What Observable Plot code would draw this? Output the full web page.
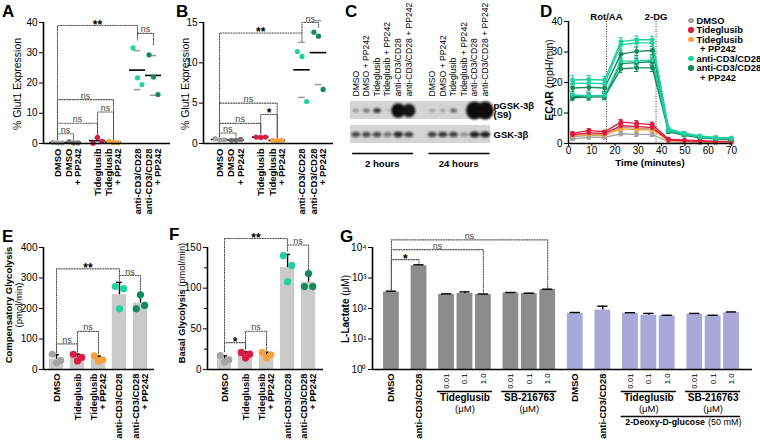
<!DOCTYPE html>
<html><head><meta charset="utf-8">
<script src="https://cdn.jsdelivr.net/npm/d3@7"></script>
<script src="https://cdn.jsdelivr.net/npm/@observablehq/plot@0.6"></script>
<style>
body{margin:0;background:#fff;}
#fig{position:relative;width:760px;height:442px;overflow:hidden;font-family:"Liberation Sans",Arial,Helvetica,sans-serif;color:#000;background:#fff;}
#fig svg{position:absolute;overflow:visible;}
</style></head><body><div id="fig"></div>
<script>
// ================= DATA =================
// A / B : % Glut1 expression, 3 donors per condition
const glutCats = ["DMSO", "DMSO\n+ PP242", "Tideglusib", "Tideglusib\n+ PP242", "anti-CD3/CD28", "anti-CD3/CD28\n+ PP242"];
const glutColors = ["#a4a4a4", "#727272", "#dc1a43", "#f7a23d", "#22d1a1", "#13895c"];
const glutA = [[0.4, 0.2, 0.2], [0.6, 0.2, 0.2], [0.1, 2.0, 0.7], [0.7, 0.3, 0.3], [31.6, 21.7, 19.5], [29.3, 22.0, 16.2]];
const glutB = [[0.6, 0.45, 0.45], [0.4, 0.4, 0.5], [0.8, 0.75, 0.8], [0.4, 0.35, 0.4], [11.4, 10.8, 5.2], [13.8, 13.3, 6.7]];
const glutTicksA = [0, 10, 20, 30, 40];
const glutTicksB = [0, 5, 10, 15];
const sigA = [
  {a: 0, b: 4, y: 39, ya: 1.3, yb: 34.2, label: "**"},
  {a: 4, b: 5, y: 36.4, ya: 36.4, yb: 32.6, label: "ns"},
  {a: 0, b: 3, y: 14.5, ya: 1.3, yb: 1.3, label: "ns"},
  {a: 2, b: 3, y: 10.4, ya: 2.8, yb: 1.3, label: "ns"},
  {a: 0, b: 2, y: 6.7, ya: 1.3, yb: 2.8, label: "ns"},
  {a: 0, b: 1, y: 3.2, ya: 1.3, yb: 1.3, label: "ns"}];
const sigB = [
  {a: 0, b: 4, y: 13.7, ya: 0.9, yb: 12.7, label: "**"},
  {a: 4, b: 5, y: 15.0, ya: 13.7, yb: 14.4, label: "ns"},
  {a: 0, b: 3, y: 5.0, ya: 0.9, yb: 0.7, label: "ns"},
  {a: 2, b: 3, y: 3.6, ya: 1.2, yb: 0.7, label: "*"},
  {a: 0, b: 2, y: 2.5, ya: 0.9, yb: 1.2, label: "ns"},
  {a: 0, b: 1, y: 1.3, ya: 0.9, yb: 0.8, label: "ns"}];

// C : western blot (band size / darkness per lane)
const blotLanes = ["DMSO", "DMSO + PP242", "Tideglusib", "Tideglusib + PP242", "anti-CD3/CD28", "anti-CD3/CD28 + PP242"];
const blotTimes = ["2 hours", "24 hours"];
const blotRows = ["pGSK-3β\n(S9)", "GSK-3β"];
const pgskSize = [3, 3.5, 4, 2.5, 7, 6.5, 3, 3, 3.5, 0, 8.5, 8.5];
const pgskDark = [0.35, 0.5, 0.8, 0.12, 1, 0.95, 0.25, 0.25, 0.6, 0, 1, 1];
const gskSize = [4.5, 4.5, 4.5, 4.2, 4.8, 4.6, 4.5, 4.6, 4.5, 4.2, 5, 5];
const gskDark = [0.7, 0.7, 0.7, 0.5, 0.85, 0.75, 0.75, 0.8, 0.75, 0.3, 0.9, 0.9];

// D : ECAR time course
const dTimes = [1.8, 8.8, 15.5, 22.5, 29.3, 36.0, 43.0, 49.8, 56.5, 63.2, 69.9];
const dInjLabels = ["Rot/AA", "2-DG"];
const dInjTimes = [16.3, 37.6];
const dTicksX = [0, 10, 20, 30, 40, 50, 60, 70];
const dTicksY = [0, 10, 20, 30, 40];
const dConds = ["DMSO", "Tideglusib", "Tideglusib\n+ PP242", "anti-CD3/CD28", "anti-CD3/CD28\n+ PP242"];
const dColors = ["#a2a2a2", "#dc1a43", "#f7a23d", "#22d1a1", "#13895c"];
const dSeries = [
  {cond: 0, vals: [1.5, 2.0, 2.0, 3.2, 3.0, 2.9, 0.6, 0.3, 0.2, 0.1, 0.1], err: [0.5, 0.5, 0.5, 0.7, 0.7, 0.6, 0.3, 0.2, 0.2, 0.1, 0.1]},
  {cond: 0, vals: [2.2, 2.7, 2.6, 5.3, 5.0, 4.8, 0.9, 0.6, 0.4, 0.3, 0.3], err: [0.6, 0.6, 0.6, 1.2, 1.3, 1.1, 0.4, 0.3, 0.2, 0.2, 0.2]},
  {cond: 2, vals: [2.6, 3.0, 2.8, 4.8, 4.6, 4.4, 1.0, 0.7, 0.5, 0.4, 0.4], err: [0.5, 0.5, 0.5, 0.8, 0.8, 0.7, 0.3, 0.2, 0.2, 0.2, 0.2]},
  {cond: 1, vals: [2.9, 3.5, 3.3, 5.8, 5.6, 5.2, 1.2, 0.9, 0.7, 0.6, 0.6], err: [0.5, 0.5, 0.5, 0.8, 0.8, 0.7, 0.3, 0.2, 0.2, 0.2, 0.2]},
  {cond: 1, vals: [3.3, 4.3, 3.8, 7.0, 6.6, 6.2, 1.4, 1.1, 0.9, 0.7, 0.7], err: [0.5, 0.5, 0.5, 0.9, 0.9, 0.8, 0.3, 0.2, 0.2, 0.2, 0.2]},
  {cond: 4, vals: [15.0, 15.2, 15.3, 24.5, 24.8, 24.8, 3.8, 2.7, 1.9, 1.5, 1.3], err: [1.0, 1.0, 1.0, 1.2, 1.2, 1.2, 0.5, 0.4, 0.3, 0.3, 0.3]},
  {cond: 4, vals: [15.4, 15.6, 15.6, 26.2, 26.5, 26.8, 4.0, 2.9, 2.0, 1.6, 1.4], err: [1.0, 1.0, 1.0, 1.3, 1.3, 1.3, 0.5, 0.4, 0.3, 0.3, 0.3]},
  {cond: 4, vals: [18.2, 18.4, 18.2, 29.3, 30.2, 30.5, 4.4, 3.1, 2.2, 1.8, 1.6], err: [1.1, 1.1, 1.1, 1.3, 1.4, 1.4, 0.5, 0.4, 0.3, 0.3, 0.3]},
  {cond: 3, vals: [16.0, 15.6, 15.8, 27.0, 27.0, 27.4, 4.2, 3.0, 2.1, 1.7, 1.5], err: [1.0, 1.0, 1.0, 1.3, 1.3, 1.3, 0.5, 0.4, 0.3, 0.3, 0.3]},
  {cond: 3, vals: [19.7, 19.8, 19.6, 32.4, 33.0, 33.0, 4.5, 3.2, 2.3, 1.9, 1.7], err: [1.2, 1.2, 1.2, 1.3, 1.3, 1.3, 0.5, 0.4, 0.3, 0.3, 0.3]},
  {cond: 3, vals: [20.8, 21.0, 20.8, 33.4, 34.0, 34.0, 4.8, 3.4, 2.5, 2.0, 1.8], err: [1.4, 1.3, 1.2, 1.3, 1.3, 1.2, 0.6, 0.5, 0.4, 0.3, 0.3]}];

// E / F : glycolysis, 3 donors
const glyCats = ["DMSO", "Tideglusib", "Tideglusib\n+ PP242", "anti-CD3/CD28", "anti-CD3/CD28\n+ PP242"];
const glyColors = ["#a4a4a4", "#dc1a43", "#f7a23d", "#22d1a1", "#13895c"];
const compVals = [[50, 30, 22], [50, 40, 28], [45, 32, 28], [272, 265, 199], [199, 210, 245]];
const basalVals = [[17, 12, 9], [21, 19, 14], [21, 18, 14], [140, 128, 108], [102, 102, 118]];
const compTicks = [0, 100, 200, 300, 400];
const basalTicks = [0, 50, 100, 150];
const basalMinor = [25, 75, 125];
const sigE = [
  {a: 0, b: 3, y: 330, ya: 55, yb: 290, label: "**"},
  {a: 3, b: 4, y: 308, ya: 308, yb: 255, label: "ns"},
  {a: 0, b: 1, y: 84, ya: 55, yb: 58, label: "ns"},
  {a: 1, b: 2, y: 125, ya: 58, yb: 52, label: "ns"}];
const sigF = [
  {a: 0, b: 3, y: 161, ya: 22, yb: 146, label: "**"},
  {a: 3, b: 4, y: 153, ya: 153, yb: 122, label: "ns"},
  {a: 0, b: 1, y: 33, ya: 22, yb: 25, label: "*"},
  {a: 1, b: 2, y: 47, ya: 25, yb: 24, label: "ns"}];

// G : L-lactate
const lacLabels = ["DMSO", "anti-CD3/CD28", "0.01", "0.1", "1.0", "0.01", "0.1", "1.0", "DMSO", "anti-CD3/CD28", "0.01", "0.1", "1.0", "0.01", "0.1", "1.0"];
const lacGroup = ["DMSO", "anti", "T", "T", "T", "SB", "SB", "SB", "DMSO-2DG", "anti-2DG", "T-2DG", "T-2DG", "T-2DG", "SB-2DG", "SB-2DG", "SB-2DG"];
const lac2DG = [false, false, false, false, false, false, false, false, true, true, true, true, true, true, true, true];
const lacMean = [345, 2530, 290, 310, 290, 325, 310, 420, 70, 89, 70, 60, 57, 65, 57, 73];
const lacErr = [25, 180, 12, 40, 8, 10, 8, 10, 4, 30, 3, 9, 3, 4, 3, 4];
const lacTicks = [1, 10, 100, 1000, 10000];
const lacTickLabels = ["10⁰", "10¹", "10²", "10³", "10⁴"];
const lacDrugGroups = [
  {name: "Tideglusib", unit: "(μM)", a: 2, b: 4},
  {name: "SB-216763", unit: "(μM)", a: 5, b: 7},
  {name: "Tideglusib", unit: "(μM)", a: 10, b: 12},
  {name: "SB-216763", unit: "(μM)", a: 13, b: 15}];
const lac2DGGroup = {name: "2-Deoxy-D-glucose", unit: "(50 mM)", a: 10, b: 15};
const sigG = [
  {a: 0, b: 1, y: 4000, ya: 420, yb: 3100, label: "*"},
  {a: 0, b: 4, y: 8500, ya: 420, yb: 340, label: "ns"},
  {a: 0, b: 7, y: 17800, ya: 420, yb: 470, label: "ns"}];

// ================= HELPERS =================
const FONT = '"Liberation Sans", Arial, Helvetica, sans-serif';
const ST = {fontFamily: FONT, fontSize: "10px", background: "transparent", color: "#000", overflow: "visible"};
const fig = document.getElementById("fig");
function put(node, left, top) { node.style.position = "absolute"; node.style.left = left + "px"; node.style.top = top + "px"; fig.appendChild(node); return node; }
function html(inner, css) { const d = document.createElement("div"); d.innerHTML = inner; d.style.cssText = "position:absolute;white-space:nowrap;" + css; fig.appendChild(d); return d; }
function letter(ch, x, y) { html(ch, `left:${x}px;top:${y}px;font-weight:bold;font-size:17px;line-height:13px;`); }
function ytitle(inner, cx, cy, size) { html(inner, `left:${cx}px;top:${cy}px;font-size:${size}px;line-height:1.1;text-align:center;transform:translate(-50%,-50%) rotate(-90deg);`); }

function sigMarks(list, xp) {
  const segs = list.flatMap((b, j) => [
    {j, x: xp(b.a), y: b.ya}, {j, x: xp(b.a), y: b.y}, {j, x: xp(b.b), y: b.y}, {j, x: xp(b.b), y: b.yb}]);
  const mid = b => (xp(b.a) + xp(b.b)) / 2;
  return [
    Plot.line(segs, {x: "x", y: "y", z: "j", stroke: "#555", strokeWidth: 1.1, strokeDasharray: "1.2 1.4"}),
    Plot.text(list.filter(b => b.label === "ns"), {x: mid, y: "y", text: "label", lineAnchor: "bottom", dy: -1, fontSize: 9, fill: "#444"}),
    Plot.text(list.filter(b => b.label !== "ns"), {x: mid, y: "y", text: "label", lineAnchor: "bottom", dy: 3, fontSize: 12, fontWeight: "bold"})
  ];
}

// ================= A & B =================
function scatterPanel({vals, ticks, sig, yMax, width, mL, mR, xDom}) {
  const xp = i => i + Math.floor(i / 2) * 0.5;
  const labelMap = new Map(glutCats.map((c, i) => [xp(i), c]));
  const pts = vals.flatMap((a, i) => a.map((v, k) => ({i, k, v})));
  const st = vals.map((a, i) => ({i, m: d3.mean(a), s: d3.deviation(a)}));
  return Plot.plot({
    width, height: 225, marginLeft: mL, marginRight: mR, marginTop: 22, marginBottom: 82, style: ST,
    x: {domain: xDom}, y: {domain: [0, yMax]},
    marks: [
      ...sigMarks(sig, xp),
      Plot.ruleY(st, {y: d => d.m + d.s, x1: d => xp(d.i) - 0.2, x2: d => xp(d.i) + 0.2, stroke: "#999", strokeWidth: 1.5}),
      Plot.ruleY(st, {y: d => Math.max(0, d.m - d.s), x1: d => xp(d.i) - 0.2, x2: d => xp(d.i) + 0.2, stroke: "#999", strokeWidth: 1.5}),
      Plot.ruleY(st, {y: "m", x1: d => xp(d.i) - 0.5, x2: d => xp(d.i) + 0.5, stroke: "#000", strokeWidth: 1.6}),
      Plot.dot(pts, {x: d => xp(d.i) + (d.k - 1) * 0.28, y: "v", r: 2.6, fill: d => glutColors[d.i]}),
      Plot.ruleY([0], {strokeWidth: 1.6}),
      Plot.ruleX([xDom[0]], {strokeWidth: 1.6}),
      Plot.axisY({ticks, tickSize: 4, tickPadding: 2, label: null, fontSize: 10}),
      Plot.axisX([...labelMap.keys()], {tickFormat: d => labelMap.get(d), tickRotate: -90, tickSize: 0, tickPadding: 5, label: null, fontWeight: "bold", fontSize: 9.5})
    ]
  });
}
put(scatterPanel({vals: glutA, ticks: glutTicksA, sig: sigA, yMax: 40, width: 178, mL: 43, mR: 8, xDom: [-0.875, 7.06]}), 0, 0);
put(scatterPanel({vals: glutB, ticks: glutTicksB, sig: sigB, yMax: 15, width: 175, mL: 38, mR: 7, xDom: [-0.97, 6.91]}), 165, 0);

// ================= C =================
{
  const lanePos = d3.range(12).map(i => i + Math.floor(i / 6) * 1.2);
  const laneMap = new Map(lanePos.map((p, i) => [p, blotLanes[i % 6]]));
  const bands = lanePos.flatMap((p, i) => [
    {x: p, row: blotRows[0], r: pgskSize[i], a: pgskDark[i]},
    {x: p, row: blotRows[1], r: gskSize[i], a: gskDark[i]}]).filter(d => d.r > 0);
  const groups = blotTimes.map((t, g) => ({label: t, x1: lanePos[g * 6] - 0.3, x2: lanePos[g * 6 + 5] + 0.45, xc: (lanePos[g * 6] + lanePos[g * 6 + 5]) / 2}));
  const ellipse = {draw(ctx, size) {
    const r = Math.sqrt(size / Math.PI), rx = r, ry = r >= 6 ? r * 1.05 : r * 0.6, k = 0.5523;
    ctx.moveTo(rx, 0);
    ctx.bezierCurveTo(rx, ry * k, rx * k, ry, 0, ry);
    ctx.bezierCurveTo(-rx * k, ry, -rx, ry * k, -rx, 0);
    ctx.bezierCurveTo(-rx, -ry * k, -rx * k, -ry, 0, -ry);
    ctx.bezierCurveTo(rx * k, -ry, rx, -ry * k, rx, 0);
    ctx.closePath();
  }};
  const svgC = Plot.plot({
    width: 200, height: 225, marginLeft: 10, marginRight: 50, marginTop: 101, marginBottom: 82, style: ST,
    x: {domain: [-0.5, 12.7]}, y: {type: "band", domain: blotRows, paddingInner: 0.25, paddingOuter: 0},
    r: {type: "identity"}, opacity: {type: "identity"},
    marks: [
      Plot.barX(blotRows, {y: d => d, x1: -0.5, x2: 12.7, fill: "#d4d4d4"}),
      Plot.dot(bands, {x: "x", y: "row", r: "r", fill: "#111", fillOpacity: "a", symbol: ellipse}),
      Plot.axisX(lanePos, {anchor: "top", tickFormat: d => laneMap.get(d), tickRotate: -90, tickSize: 0, tickPadding: 5, label: null, fontSize: 8.6}),
      Plot.axisY({anchor: "right", tickSize: 0, tickPadding: 3, label: null, fontWeight: "bold", fontSize: 9.5}),
      Plot.ruleY(groups, {y: () => blotRows[1], x1: "x1", x2: "x2", dy: 19, strokeWidth: 1.5}),
      Plot.text(groups, {x: "xc", y: () => blotRows[1], text: "label", dy: 29, fontWeight: "bold", fontSize: 9.6})
    ]
  });
  const defs = document.createElementNS("http://www.w3.org/2000/svg", "defs");
  defs.innerHTML = '<filter id="blotBlur" x="-50%" y="-50%" width="200%" height="200%"><feGaussianBlur stdDeviation="0.8"/></filter>';
  svgC.prepend(defs);
  svgC.querySelectorAll('g[aria-label="dot"]').forEach(g => g.setAttribute("filter", "url(#blotBlur)"));
  put(svgC, 340, 0);
}

// ================= D =================
{
  const rows = dSeries.flatMap((s, j) => dTimes.map((t, k) => ({j, c: dColors[s.cond], t, v: s.vals[k], e: s.err[k]})));
  const inj = dInjLabels.map((l, i) => ({label: l, t: dInjTimes[i]}));
  put(Plot.plot({
    width: 220, height: 225, marginLeft: 28, marginRight: 29, marginTop: 21, marginBottom: 82, style: ST,
    x: {domain: [0, 70]}, y: {domain: [0, 40]},
    marks: [
      Plot.ruleX(inj, {x: "t", stroke: "#333", strokeWidth: 1, strokeDasharray: "1 1.5"}),
      Plot.text(inj, {x: "t", text: "label", frameAnchor: "top", dy: -8, fontWeight: "bold", fontSize: 9.5}),
      Plot.ruleX(rows, {x: "t", y1: d => d.v - d.e, y2: d => d.v + d.e, stroke: "c", strokeWidth: 1}),
      Plot.ruleY(rows, {y: d => d.v + d.e, x1: d => d.t - 0.9, x2: d => d.t + 0.9, stroke: "c", strokeWidth: 1}),
      Plot.ruleY(rows, {y: d => d.v - d.e, x1: d => d.t - 0.9, x2: d => d.t + 0.9, stroke: "c", strokeWidth: 1}),
      Plot.line(rows, {x: "t", y: "v", z: "j", stroke: "c", strokeWidth: 1.4}),
      Plot.dot(rows, {x: "t", y: "v", r: 2.4, fill: "c"}),
      Plot.ruleY([0], {strokeWidth: 1.5}),
      Plot.ruleX([0], {strokeWidth: 1.5}),
      Plot.axisY({ticks: dTicksY, tickSize: 4, tickPadding: 2, label: null, fontSize: 10}),
      Plot.axisX({ticks: dTicksX, tickSize: 3, tickPadding: 0, label: null, fontSize: 10}),
      Plot.text(["Time (minutes)"], {text: d => d, frameAnchor: "bottom", dy: 22, fontWeight: "bold", fontSize: 9.8})
    ]
  }), 540, 0);
  // legend
  const leg = html("", "left:688px;top:16.5px;font-weight:bold;font-size:9.3px;line-height:9.5px;");
  leg.innerHTML = dConds.map((c, i) => {
    const lines = c.split("\n");
    return `<div><span style="display:inline-block;width:5.5px;height:5.5px;border-radius:50%;background:${dColors[i]};margin-right:3px;vertical-align:0.5px;"></span>${lines[0]}</div>` +
      lines.slice(1).map(l => `<div style="padding-left:12px;">${l}</div>`).join("");
  }).join("");
}

// ================= E & F =================
function barPanel({vals, ticks, minor, sig, yMax, width, mL, mR, xDom}) {
  const jit = [-0.2, 0.2, 0];
  const labelMap = new Map(glyCats.map((c, i) => [i, c]));
  const pts = vals.flatMap((a, i) => a.map((v, k) => ({i, k, v})));
  const st = vals.map((a, i) => ({i, m: d3.mean(a), s: d3.deviation(a)}));
  return Plot.plot({
    width, height: 217, marginLeft: mL, marginRight: mR, marginTop: 22, marginBottom: 73, style: ST,
    x: {domain: xDom}, y: {domain: [0, yMax]},
    marks: [
      ...sigMarks(sig, i => i),
      Plot.rect(st, {x1: d => d.i - 0.34, x2: d => d.i + 0.34, y1: 0, y2: "m", fill: "#cacaca"}),
      Plot.ruleX(st, {x: "i", y1: "m", y2: d => d.m + d.s, strokeWidth: 1.4}),
      Plot.ruleY(st, {y: d => d.m + d.s, x1: d => d.i - 0.14, x2: d => d.i + 0.14, strokeWidth: 1.4}),
      Plot.dot(pts, {x: d => d.i + jit[d.k], y: "v", r: 3.6, fill: d => glyColors[d.i]}),
      Plot.ruleY([0], {strokeWidth: 1.6}),
      Plot.ruleX([xDom[0]], {strokeWidth: 1.6}),
      Plot.axisY({ticks, tickSize: 4, tickPadding: 2, label: null, fontSize: 10}),
      minor ? Plot.axisY({ticks: minor, tickSize: 3, tickFormat: () => "", label: null}) : null,
      Plot.axisX([...labelMap.keys()], {tickFormat: d => labelMap.get(d), tickRotate: -90, tickSize: 0, tickPadding: 4, label: null, fontWeight: "bold", fontSize: 9.4})
    ]
  });
}
put(barPanel({vals: compVals, ticks: compTicks, minor: null, sig: sigE, yMax: 400, width: 165, mL: 43, mR: 11, xDom: [-0.62, 4.67]}), 0, 225);
put(barPanel({vals: basalVals, ticks: basalTicks, minor: basalMinor, sig: sigF, yMax: 150, width: 170, mL: 42, mR: 12, xDom: [-0.81, 4.71]}), 165, 225);

// ================= G =================
{
  let p = -1, prev = null;
  const gp = lacGroup.map(g => { p += 1 + (prev !== null && g !== prev ? 0.5 : 0); prev = g; return p; });
  const lac = lacMean.map((m, i) => ({x: gp[i], m, e: lacErr[i], fill: lac2DG[i] ? "#aaa8d8" : "#8c8c8c"}));
  const catIdx = lacLabels.map((l, i) => i).filter(i => !/^[0-9.]+$/.test(lacLabels[i]));
  const concIdx = lacLabels.map((l, i) => i).filter(i => /^[0-9.]+$/.test(lacLabels[i]));
  const labelMap = new Map(gp.map((x, i) => [x, lacLabels[i]]));
  const grp = lacDrugGroups.map(g => ({...g, x1: gp[g.a] - 0.5, x2: gp[g.b] + 0.5, xc: (gp[g.a] + gp[g.b]) / 2}));
  const dg = [{...lac2DGGroup, x1: gp[lac2DGGroup.a] - 0.5, x2: gp[lac2DGGroup.b] + 0.5}];
  dg[0].xc = (dg[0].x1 + dg[0].x2) / 2;
  put(Plot.plot({
    width: 425, height: 217, marginLeft: 37, marginRight: 8, marginTop: 22, marginBottom: 73, style: ST,
    x: {domain: [-1.03, 19.64]}, y: {type: "log", domain: [1, 10000]},
    marks: [
      ...sigMarks(sigG, i => gp[i]),
      Plot.rect(lac, {x1: d => d.x - 0.43, x2: d => d.x + 0.43, y1: 1, y2: "m", fill: "fill"}),
      Plot.ruleX(lac, {x: "x", y1: "m", y2: d => d.m + d.e, strokeWidth: 1.4}),
      Plot.ruleY(lac, {y: d => d.m + d.e, x1: d => d.x - 0.28, x2: d => d.x + 0.28, strokeWidth: 1.4}),
      Plot.ruleY([1], {strokeWidth: 1.6}),
      Plot.ruleX([-1.03], {strokeWidth: 1.6}),
      Plot.axisY({ticks: lacTicks, tickFormat: d => lacTickLabels[lacTicks.indexOf(d)], tickSize: 4, tickPadding: 2, label: null, fontSize: 10}),
      Plot.axisX(catIdx.map(i => gp[i]), {tickFormat: d => labelMap.get(d), tickRotate: -90, tickSize: 0, tickPadding: 4, label: null, fontWeight: "bold", fontSize: 9.4}),
      Plot.axisX(concIdx.map(i => gp[i]), {tickFormat: d => labelMap.get(d), tickRotate: -90, tickSize: 0, tickPadding: 4, label: null, fontSize: 7.8}),
      Plot.ruleY(grp, {y: 1, x1: "x1", x2: "x2", dy: 22, strokeWidth: 1.3}),
      Plot.text(grp, {x: "xc", y: 1, text: "name", dy: 28, fontWeight: "bold", fontSize: 10}),
      Plot.text(grp, {x: "xc", y: 1, text: "unit", dy: 39, fontSize: 9.5}),
      Plot.ruleY(dg, {y: 1, x1: "x1", x2: "x2", dy: 47, strokeWidth: 1.3}),
      Plot.text(dg, {x: "xc", y: 1, text: "name", dy: 53, dx: 24, textAnchor: "end", fontWeight: "bold", fontSize: 8.8}),
      Plot.text(dg, {x: "xc", y: 1, text: "unit", dy: 53, dx: 27, textAnchor: "start", fontSize: 9})
    ]
  }), 335, 225);
}

// ================= titles & letters =================
ytitle("% Glut1 Expression", 18, 84, 10.5);
ytitle("% Glut1 Expression", 186, 84, 10.5);
ytitle("<b>ECAR</b> (mpH/min)", 550, 80, 10.5);
ytitle("<b>Compensatory Glycolysis</b><br>(pmol/min)", 14, 305, 9.5);
ytitle("<b>Basal Glycolysis</b> (pmol/min)", 182, 303, 9.3);
ytitle("<b>L-Lactate</b> (μM)", 345, 309, 10);
letter("A", 2, 5); letter("B", 176, 5); letter("C", 345, 5); letter("D", 540, 5);
letter("E", 2, 230); letter("F", 169, 228); letter("G", 340, 230);
</script></body></html>
